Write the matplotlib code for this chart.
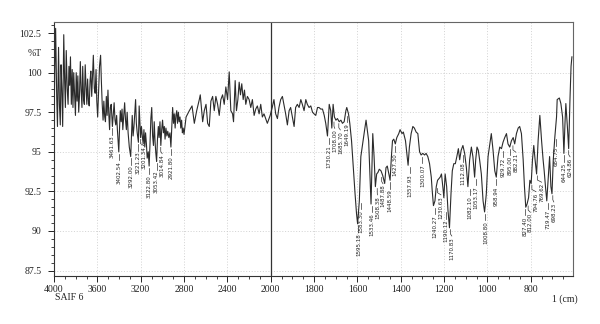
import numpy as np
import matplotlib.pyplot as plt
from matplotlib.ticker import FixedLocator

# trace, 4000-2000 cm-1 (compressed half of the axis)
wn_high = [4000, 3993, 3985, 3975, 3968, 3958, 3950, 3942, 3935, 3928, 3920, 3910, 3902, 3895,
           3887, 3878, 3870, 3862, 3855, 3848, 3840, 3832, 3825, 3818, 3810, 3802, 3795, 3787,
           3780, 3772, 3765, 3757, 3750, 3742, 3735, 3727, 3720, 3712, 3705, 3697, 3690, 3682,
           3675, 3667, 3660, 3652, 3645, 3637, 3628, 3620, 3612, 3605, 3597, 3590, 3580, 3570,
           3563, 3555, 3547, 3540, 3532, 3525, 3517, 3510, 3502, 3495, 3487, 3480, 3472, 3461,
           3452, 3445, 3437, 3430, 3422, 3415, 3402, 3395, 3388, 3380, 3372, 3365, 3357, 3348,
           3340, 3332, 3325, 3316, 3305, 3292, 3285, 3278, 3270, 3262, 3255, 3247, 3240, 3232,
           3221, 3214, 3207, 3201, 3193, 3185, 3177, 3170, 3162, 3155, 3147, 3140, 3130, 3122,
           3114, 3106, 3098, 3090, 3082, 3075, 3067, 3060, 3053, 3045, 3037, 3030, 3022, 3014,
           3006, 2998, 2990, 2982, 2975, 2967, 2958, 2950, 2940, 2930, 2921, 2912, 2905, 2897,
           2890, 2882, 2875, 2867, 2860, 2852, 2845, 2837, 2830, 2822, 2815, 2808, 2800, 2781,
           2751, 2726, 2705, 2683, 2659, 2650, 2628, 2613, 2597, 2582, 2567, 2552, 2536, 2521,
           2506, 2490, 2475, 2460, 2444, 2429, 2414, 2398, 2383, 2368, 2352, 2343, 2328, 2316,
           2303, 2291, 2279, 2267, 2254, 2242, 2230, 2215, 2199, 2184, 2169, 2153, 2138, 2123,
           2107, 2092, 2077, 2062, 2046, 2031]
t_high = [96.8, 100.0, 102.8, 98.5, 96.6, 101.6, 98.0, 96.7, 100.5, 99.0, 96.6, 102.4, 99.5, 97.8,
          101.4, 99.0, 98.0, 100.4, 99.2, 101.0, 98.0, 100.2, 97.8, 100.0, 98.6, 97.3, 100.0, 98.2,
          99.8, 97.5, 98.5, 100.7, 99.0, 97.8, 100.4, 98.3, 98.0, 100.5, 99.2, 98.0, 99.6, 98.2,
          97.9, 99.5, 100.1, 98.5, 99.7, 101.1, 99.0, 98.7, 100.2, 98.2, 97.2, 98.5, 100.4, 101.1,
          99.5, 98.0, 97.0, 98.2, 97.2, 96.9, 98.5, 97.3, 98.9, 97.5, 96.4, 97.8, 98.0, 96.6,
          97.5, 98.1, 97.0, 96.7, 97.3, 96.4, 95.0, 96.5, 97.6, 96.9, 97.7, 96.4, 97.2, 98.1,
          97.0, 96.4, 97.5, 96.2, 95.3, 94.7, 96.0, 97.3, 96.0, 96.6, 97.4, 98.3, 96.8, 96.2,
          95.6, 97.9, 96.8, 95.9, 96.6, 96.0, 95.5, 96.4, 95.3, 96.2, 95.5, 94.6, 95.0, 94.1,
          95.5, 97.1, 97.8, 96.0, 95.4, 96.9, 95.6, 94.9, 94.4, 95.8, 96.6, 95.9, 96.9, 95.4,
          96.4, 97.0, 96.2, 96.6, 95.8, 96.5, 96.0, 96.3, 95.9, 96.2, 95.3, 96.7, 97.8, 96.8,
          97.4, 96.5, 97.3, 97.6, 96.8, 97.5, 96.9, 97.2, 96.5, 97.0, 96.2, 96.5, 96.1, 97.2,
          97.6, 97.9, 96.8, 97.6, 98.3, 98.6, 96.9, 97.6, 98.0, 96.8, 96.6, 98.2, 98.5, 97.6,
          98.5, 98.0, 97.3, 98.3, 98.6, 98.0, 99.1, 98.3, 100.05, 97.6, 97.4, 96.9, 99.5, 97.6,
          98.3, 99.4, 98.6, 99.3, 98.3, 98.9, 98.0, 98.5, 98.3, 97.8, 98.3, 97.3, 97.7, 97.9,
          97.4, 98.0, 97.2, 97.4, 97.1, 96.8]

# 2000-605 cm-1 (expanded half of the axis)
wn_low = [2005, 1993, 1985, 1977, 1969, 1962, 1954, 1946, 1939, 1931, 1923, 1915, 1908, 1900,
          1892, 1885, 1877, 1869, 1861, 1854, 1846, 1838, 1831, 1823, 1815, 1807, 1800, 1792,
          1784, 1777, 1769, 1761, 1753, 1746, 1738, 1730, 1723, 1718, 1712, 1706, 1699, 1692,
          1684, 1676, 1669, 1661, 1653, 1649, 1641, 1635, 1627, 1619, 1611, 1604, 1599, 1591,
          1584, 1576, 1568, 1560, 1548, 1542, 1537, 1529, 1523, 1517, 1511, 1505, 1499, 1491,
          1483, 1474, 1468, 1462, 1455, 1449, 1443, 1438, 1432, 1425, 1418, 1409, 1403, 1394,
          1388, 1378, 1372, 1366, 1360, 1352, 1344, 1337, 1329, 1321, 1313, 1306, 1298, 1290,
          1283, 1275, 1267, 1259, 1255, 1249, 1242, 1236, 1230, 1224, 1218, 1212, 1205, 1201,
          1195, 1188, 1182, 1175, 1168, 1162, 1155, 1148, 1141, 1134, 1128, 1121, 1113, 1105,
          1097, 1090, 1082, 1074, 1067, 1059, 1054, 1048, 1042, 1036, 1028, 1020, 1013, 1005,
          997, 989, 982, 974, 966, 959, 951, 943, 935, 928, 920, 912, 905, 897,
          889, 881, 874, 866, 858, 851, 843, 835, 829, 823, 817, 810, 804, 798,
          792, 786, 780, 773, 766, 758, 750, 743, 738, 732, 726, 719, 713, 707,
          702, 696, 689, 681, 678, 668, 661, 653, 647, 642, 638, 631, 625, 619,
          614, 610]
t_low = [97.3, 97.8, 98.3, 97.4, 97.1, 97.8, 98.3, 98.5, 98.0, 97.4, 96.7, 97.6, 97.8, 97.2,
         96.6, 97.8, 98.0, 97.8, 98.3, 98.0, 97.6, 98.3, 98.0, 97.8, 97.9, 97.5, 97.4, 97.3,
         97.8, 97.8, 97.7, 97.7, 97.3, 96.8, 96.0, 98.0, 97.6, 96.5, 98.0, 97.2, 97.0, 97.1,
         96.9, 97.0, 96.8, 96.9, 97.6, 97.8, 97.4, 96.8, 95.7, 94.0, 92.4, 91.1, 90.45, 91.9,
         94.7, 95.5, 96.25, 97.0, 95.7, 93.6, 91.7, 96.15, 94.7, 92.8, 93.6, 93.7, 93.9, 93.8,
         93.5, 93.0, 94.0, 94.1, 93.6, 93.2, 94.7, 95.7, 95.8, 95.5, 95.9, 96.15, 96.4, 96.15,
         96.25, 95.7, 94.9, 94.15, 95.3, 96.15, 96.6, 96.5, 96.25, 96.15, 95.0, 94.8, 94.9, 94.8,
         94.9, 94.7, 94.25, 93.4, 92.6, 91.6, 91.9, 92.8, 93.2, 93.3, 93.4, 93.6, 92.7, 92.1,
         93.6, 92.8, 91.3, 90.2, 92.35, 93.8, 94.25, 94.25, 94.7, 95.2, 94.5, 95.1, 95.4, 94.9,
         94.0, 92.8, 94.5, 95.3, 94.7, 93.4, 94.5, 95.3, 95.1, 94.5, 93.6, 91.9, 91.2, 92.35,
         94.7, 95.5, 96.15, 95.1, 93.8, 93.4, 94.7, 95.3, 95.2, 95.6, 95.9, 96.15, 95.5, 95.3,
         95.7, 95.9, 95.5, 96.15, 96.5, 96.6, 96.15, 94.5, 92.8, 91.5, 91.7, 92.1, 93.2, 93.0,
         94.5, 95.4, 94.5, 93.6, 95.7, 97.3, 95.7, 94.5, 93.8, 92.8, 91.9, 93.4, 94.7, 92.8,
         92.35, 94.5, 95.9, 97.2, 98.3, 98.4, 98.05, 97.2, 94.9, 96.8, 98.05, 96.6, 95.2, 98.3,
         100.4, 101.0]

peak_labels = ["3461.63", "3402.54", "3292.00", "3221.23", "3201.34", "3122.80", "3053.42",
               "3014.84", "2921.80", "1730.21", "1708.00", "1685.70", "1649.19", "1595.18",
               "1583.30", "1533.46", "1508.38", "1487.88", "1448.59", "1427.30", "1357.93",
               "1300.07", "1240.27", "1230.63", "1190.12", "1170.83", "1112.08", "1082.10",
               "1053.17", "1008.80", "958.94", "929.72", "895.00", "882.21", "827.40",
               "812.00", "794.76", "769.62", "719.47", "698.23", "684.75", "644.25", "624.86"]

x_ticks = [4000, 3600, 3200, 2800, 2400, 2000, 1800, 1600, 1400, 1200, 1000, 800]
y_ticks = [87.5, 90, 92.5, 95, 97.5, 100, 102.5]


def forward(x):
    x = np.asarray(x, dtype=float)
    return np.where(x >= 2000, x, 2 * x - 2000)


def inverse(u):
    u = np.asarray(u, dtype=float)
    return np.where(u >= 2000, u, (u + 2000) / 2)


wn = np.array(wn_high + wn_low)
tr = np.array(t_high + t_low)

plt.rcParams["font.family"] = ["Liberation Serif", "DejaVu Serif"]

fig = plt.figure(figsize=(6, 3.24), dpi=100)
ax = fig.add_axes([0.09, 0.148, 0.865, 0.784])
ax.set_xscale("function", functions=(forward, inverse))
ax.set_xlim(4000, 605)
ax.set_ylim(87.15, 103.2)

grid_kw = dict(color="#c4c4c4", lw=0.5, ls=(0, (1.5, 2.5)), zorder=0)
for y in y_ticks[:-1]:
    ax.axhline(y, **grid_kw)
for x in x_ticks[1:]:
    if x != 2000:
        ax.axvline(x, **grid_kw)
ax.axvline(2000, color="#333333", lw=0.9, zorder=1)

ax.plot(wn, tr, color="#2b2b2b", lw=0.8, zorder=3)

# peak labels hang under their troughs; close ones are pushed sideways
to_px = ax.transData
to_data = ax.transData.inverted()
label_h = 1.3
placed = []
for lab in peak_labels:
    w = float(lab)
    near = np.abs(wn - w) <= 9
    low = tr[near].min() if near.any() else np.interp(-w, -wn, tr)
    top = low - 0.58
    px = to_px.transform((w, top))[0]
    for qx, qtop in placed:
        overlap = not (top < qtop - label_h or qtop < top - label_h)
        if overlap and px - qx < 5.6:
            px = qx + 5.6
    placed.append((px, top))
    tx = to_data.transform((px, 0))[0]
    ax.plot([w, w, tx], [low - 0.12, low - 0.38, low - 0.52], color="#333333", lw=0.5, zorder=4)
    ax.text(tx, top, lab, rotation=90, ha="center", va="top",
            fontsize=4.0, family="DejaVu Sans", color="#222222", zorder=4)

ax.xaxis.set_major_locator(FixedLocator(x_ticks))
minor = list(range(4000, 2000, -100)) + list(range(2000, 600, -50))
ax.xaxis.set_minor_locator(FixedLocator(minor))
ax.set_xticklabels([str(x) for x in x_ticks])
ax.yaxis.set_major_locator(FixedLocator(y_ticks))
ax.yaxis.set_minor_locator(FixedLocator(list(np.arange(87.5, 103.01, 0.5))))
ax.set_yticklabels(["87.5", "90", "92.5", "95", "97.5", "100", "102.5"])

ax.tick_params(axis="both", which="major", direction="out", length=4, width=0.7,
               labelsize=7, colors="#222222")
ax.tick_params(axis="both", which="minor", direction="out", length=2.5, width=0.6,
               colors="#222222")
ax.tick_params(axis="x", which="major", pad=2.5)
ax.tick_params(axis="y", which="major", pad=5)

for side in ["left", "bottom"]:
    ax.spines[side].set_color("#333333")
    ax.spines[side].set_linewidth(0.8)
for side in ["top", "right"]:
    ax.spines[side].set_color("#666666")
    ax.spines[side].set_linewidth(0.8)

fig.text(35 / 600, 1 - 53 / 324, "%T", ha="center", va="center", fontsize=7, color="#222222")
fig.text(55 / 600, 1 - 298 / 324, "SAIF 6", ha="left", va="center", fontsize=7, color="#222222")
fig.text(578 / 600, 1 - 299 / 324, "1 (cm)", ha="right", va="center", fontsize=7, color="#222222")

fig.savefig("out.png", dpi=100, facecolor="white")
